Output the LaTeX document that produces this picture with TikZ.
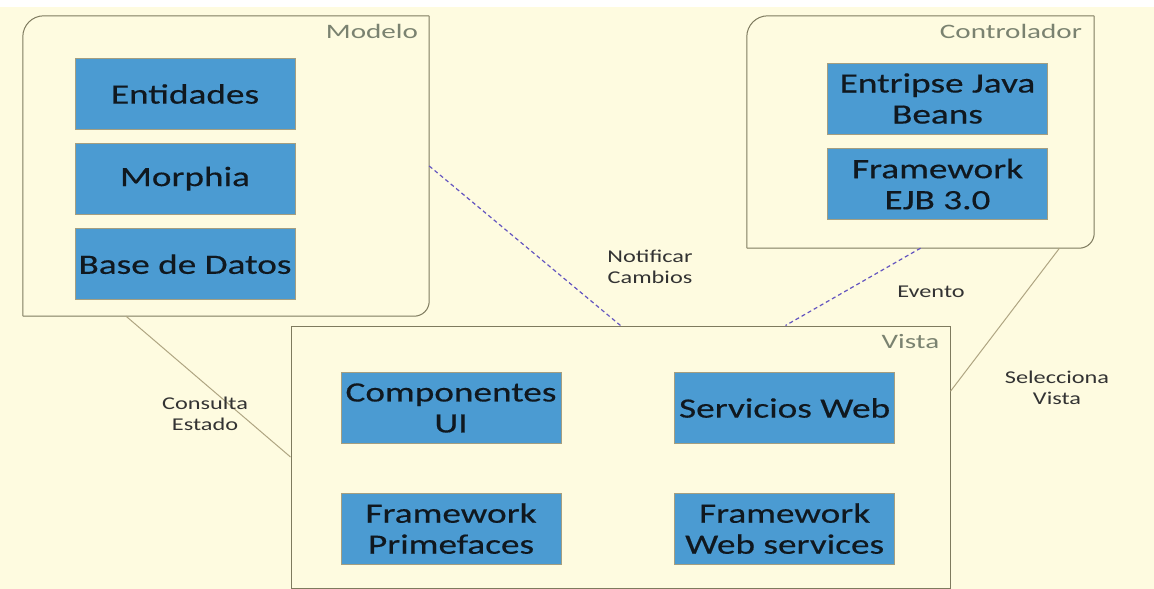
\documentclass[tikz,border=0pt]{standalone}
\usepackage{fontspec}
\setmainfont{Carlito}
\newfontfamily\compfont[FakeStretch=1.33,FakeBold=0.4]{Carlito}
\newfontfamily\tagfont[FakeStretch=1.42]{Carlito}
\newfontfamily\linkfont[FakeStretch=1.35]{Carlito}
\usetikzlibrary{positioning,calc}
\definecolor{bgC}{HTML}{FEFBE0}
\definecolor{frameC}{HTML}{7E7A5E}
\definecolor{tagC}{HTML}{7A8270}
\definecolor{compC}{HTML}{4B9BD2}
\definecolor{compD}{HTML}{A49E80}
\definecolor{txtC}{HTML}{10181F}
\definecolor{linkC}{HTML}{AFA582}
\definecolor{dashC}{HTML}{6455C0}
\tikzset{
  region/.style={inner sep=0pt},
  frame/.style={draw=frameC, line width=1pt},
  comp/.style={fill=compC, draw=compD, line width=0.6pt, minimum width=220pt,
    minimum height=71pt, inner sep=0pt, align=center, text=txtC,
    font=\compfont\fontsize{28}{31}\selectfont},
  tag/.style={text=tagC, inner sep=0pt, font=\tagfont\fontsize{20.5}{24}\selectfont},
  link/.style={draw=linkC, line width=1pt},
  notice/.style={draw=dashC, line width=1.2pt, dash pattern=on 4pt off 3pt},
  linklabel/.style={text=black!80, align=center, inner sep=0pt,
    font=\linkfont\fontsize{18}{21}\selectfont}
}
\begin{document}
\begin{tikzpicture}[x=1pt,y=-1pt]
\useasboundingbox (0,0) rectangle (1154,589);
\fill[white] (0,0) rectangle (1154,589);
\fill[bgC] (0,7) rectangle (1154,589);
% modelo
\node[region, minimum width=406pt, minimum height=300pt] (modelo) at (226,166) {};
\draw[frame, rounded corners=21pt] (modelo.south west) -- (modelo.north west) -- (modelo.north east);
\draw[frame, rounded corners=15pt] (modelo.north east) -- (modelo.south east) -- (modelo.south west);
\node[tag, anchor=east] (modelotag) at ($(modelo.north east)+(-11,16)$) {Modelo};
\node[comp] (ent) at (185,94) {Entidades};
\node[comp, below=13pt of ent] (mor) {Morphia};
\node[comp, below=14pt of mor] (bd) {Base de Datos};
% controlador
\node[region, minimum width=347pt, minimum height=232pt] (ctrl) at (920.5,132) {};
\draw[frame, rounded corners=21pt] (ctrl.south west) -- (ctrl.north west) -- (ctrl.north east);
\draw[frame, rounded corners=15pt] (ctrl.north east) -- (ctrl.south east) -- (ctrl.south west);
\node[tag, anchor=east] (ctrltag) at ($(ctrl.north east)+(-12,16)$) {Controlador};
\node[comp] (ejb) at (937.5,98.5) {Entripse Java\\Beans};
\node[comp, below=14pt of ejb] (fwejb) {Framework\\EJB 3.0};
% vista
\node[region, frame, minimum width=659pt, minimum height=262pt] (vista) at (620.5,457) {};
\node[tag, anchor=east] (vistatag) at ($(vista.north east)+(-11,16)$) {Vista};
\node[comp] (cui) at (451,408) {Componentes\\UI};
\node[comp, right=113pt of cui] (sweb) {Servicios Web};
\node[comp, below=49pt of cui] (fpf) {Framework\\Primefaces};
\node[comp, right=113pt of fpf] (fws) {Framework\\Web services};
% conectores
\draw[link] ($(modelo.south west)!0.254!(modelo.south east)$) -- (vista.west);
\draw[notice] (modelo.east) -- (vista.north);
\draw[notice] (ctrl.south) -- ($(vista.north west)!0.75!(vista.north east)$);
\draw[link] ($(ctrl.south west)!0.9!(ctrl.south east)$) -- ($(vista.north east)!0.25!(vista.south east)$);
\node[linklabel] (consulta) at (205,414) {Consulta\\Estado};
\node[linklabel] (notificar) at (650,267) {Notificar\\Cambios};
\node[linklabel] (evento) at (931,292) {Evento};
\node[linklabel] (selecciona) at (1057,388) {Selecciona\\Vista};
\end{tikzpicture}
\end{document}
